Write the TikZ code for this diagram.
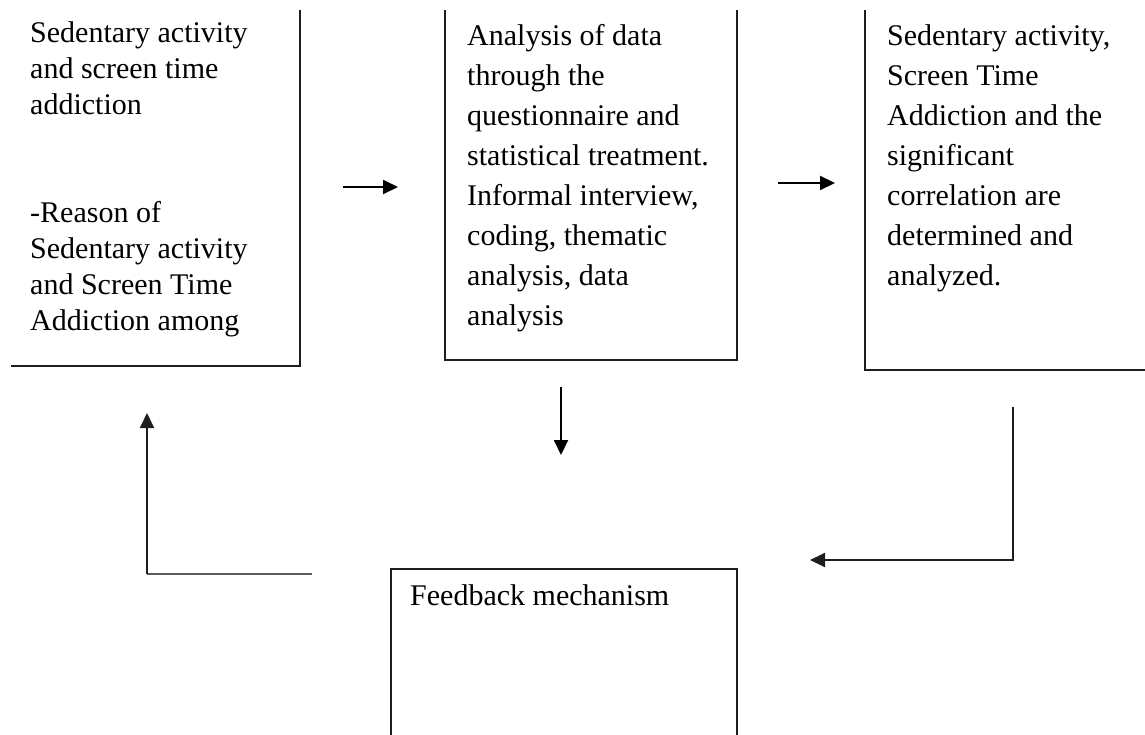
\documentclass[tikz,border=0pt]{standalone}
\usepackage{fontspec}
\setmainfont{Liberation Serif}
\usetikzlibrary{arrows.meta}
\definecolor{edge}{RGB}{30,30,30}
\definecolor{greyline}{RGB}{90,90,90}
\begin{document}
\begin{tikzpicture}[x=1pt,y=-1pt,
  boxline/.style={line width=2pt, draw=edge},
  arr/.style={line width=2pt, draw=black, -{Triangle[length=15pt,width=14pt]}},
  txtA/.style={anchor=north west, inner sep=0pt, align=left, font=\fontsize{30}{36}\selectfont},
  txtB/.style={anchor=north west, inner sep=0pt, align=left, font=\fontsize{30}{40}\selectfont}]
\useasboundingbox (0,0) rectangle (1145,735);

% box corners
\coordinate (b1bl) at (11,366);  \coordinate (b1tr) at (300,10);
\coordinate (b2tl) at (445,10);  \coordinate (b2br) at (737,360); \coordinate (b2tr) at (737,10);
\coordinate (b3tl) at (865,10);  \coordinate (b3br) at (1150,370);
\coordinate (b4bl) at (391,740); \coordinate (b4tr) at (737,569); \coordinate (b4br) at (737,740);

% boxes
\draw[boxline] (b1bl) -| (b1tr);
\draw[boxline] (b2tl) |- (b2br) -- (b2tr);
\draw[boxline] (b3tl) |- (b3br);
\draw[boxline] (b4bl) |- (b4tr) -- (b4br);

% texts
\node[txtA] (t1) at (30,16.8) {\strut Sedentary activity\\and screen time\\addiction\\[72pt]-Reason of\\Sedentary activity\\and Screen Time\\Addiction among};
\node[txtB] (t2) at (467,17) {\strut Analysis of data\\through the\\questionnaire and\\statistical treatment.\\Informal interview,\\coding, thematic\\analysis, data\\analysis};
\node[txtB] (t3) at (887,17) {\strut Sedentary activity,\\Screen Time\\Addiction and the\\significant\\correlation are\\determined and\\analyzed.};
\node[txtA] (t4) at (410,579.8) {\strut Feedback mechanism};

% arrow end points
\coordinate (a1s) at (343,187);  \coordinate (a1e) at (398,187);
\coordinate (a2s) at (778,183);  \coordinate (a2e) at (835,183);
\coordinate (a3s) at (561,387);  \coordinate (a3e) at (561,455);
\coordinate (a4s) at (1013,407); \coordinate (a4c) at (1013,560); \coordinate (a4e) at (810,560);
\coordinate (a5s) at (312,574);  \coordinate (a5c) at (147,574);  \coordinate (a5e) at (147,413);

\draw[arr] (a1s) -- (a1e);
\draw[arr] (a2s) -- (a2e);
\draw[arr] (a3s) -- (a3e);
\draw[arr, draw=edge] (a4s) -- (a4c) -- (a4e);
\draw[line width=2pt, draw=greyline] (a5s) -- (a5c);
\draw[arr, draw=edge] (a5c) -- (a5e);
\end{tikzpicture}
\end{document}
